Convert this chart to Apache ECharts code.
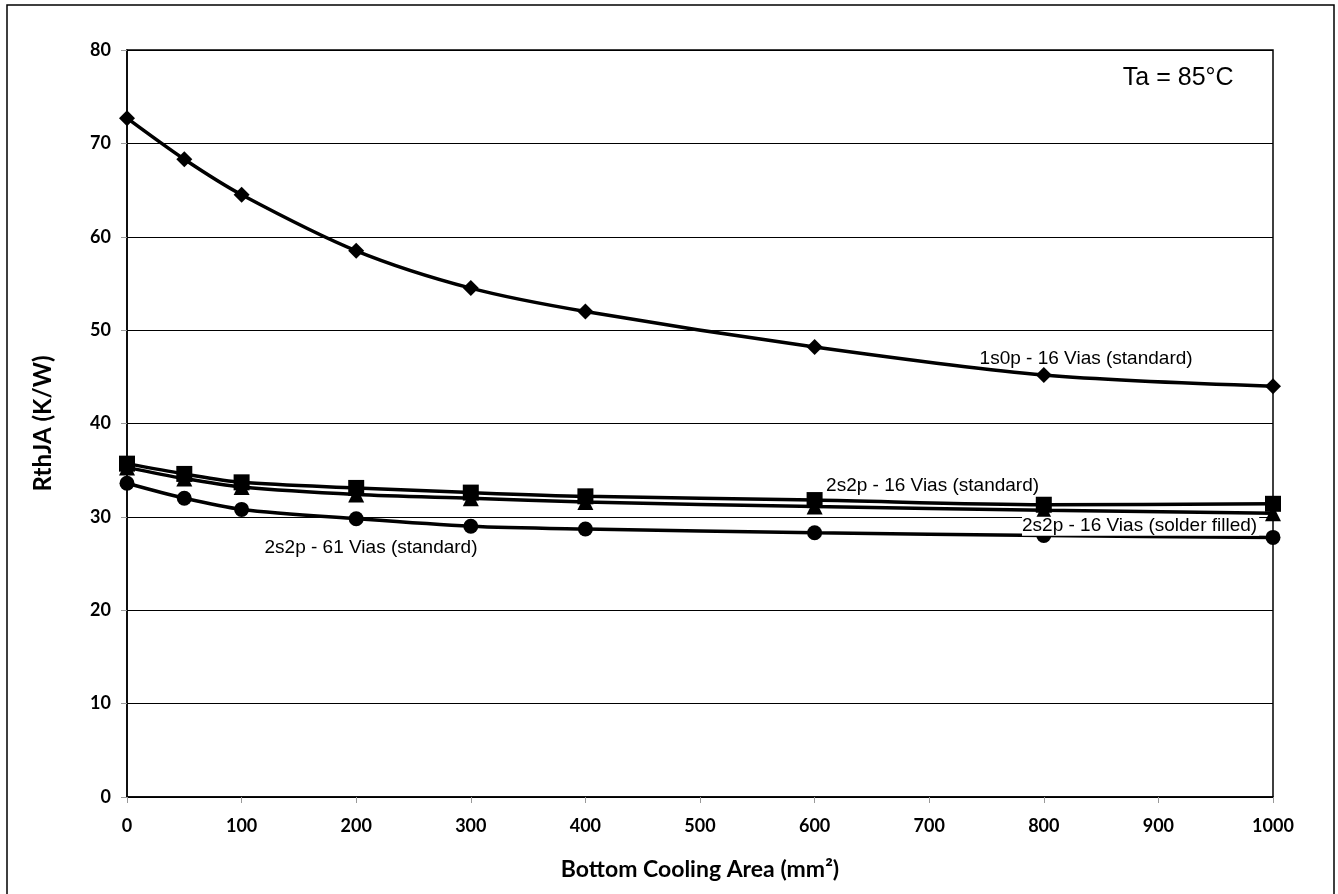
<!DOCTYPE html>
<html>
<head>
<meta charset="utf-8">
<script src="https://cdn.jsdelivr.net/npm/echarts@6/dist/echarts.min.js"></script>
<style>
  html, body { margin: 0; padding: 0; background: #fff; }
  #panel { width: 1338px; height: 894px; }
</style>
</head>
<body>
<div id="panel"></div>
<script>
var area = [0, 50, 100, 200, 300, 400, 600, 800, 1000];

var s1s0p16 = [72.7, 68.3, 64.5, 58.5, 54.5, 52.0, 48.2, 45.2, 44.0];
var s2s2p16 = [35.7, 34.6, 33.7, 33.1, 32.6, 32.2, 31.8, 31.3, 31.4];
var s2s2p16sf = [35.3, 34.1, 33.2, 32.4, 32.0, 31.6, 31.1, 30.7, 30.4];
var s2s2p61 = [33.6, 32.0, 30.8, 29.8, 29.0, 28.7, 28.3, 28.0, 27.8];

var names = ['1s0p - 16 Vias (standard)', '2s2p - 16 Vias (standard)',
             '2s2p - 16 Vias (solder filled)', '2s2p - 61 Vias (standard)'];
// where each curve's caption sits, in data units (left edge, vertical middle)
var labelAt = [[744, 46.9], [610, 33.3], [781, 29.0], [120, 26.7]];
var labelSize = [19, 19, 19, 19];
var noteText = 'Ta = 85\u00B0C';
var noteAt = [869, 77.0];

function pairs(ys) {
    return area.map(function (x, i) { return [x, ys[i]]; });
}

function caption(i, bg) {
    return {
        coord: labelAt[i],
        symbol: 'circle',
        symbolSize: 0,
        label: {
            show: true,
            position: 'inside',
            align: 'left',
            formatter: names[i],
            color: '#000',
            fontFamily: 'Liberation Sans, Arial',
            fontSize: labelSize[i],
            backgroundColor: bg ? '#fff' : 'transparent',
            padding: [0, 2, 0, 0]
        }
    };
}

function line(ys, symbol, size, i, bg) {
    return {
        name: names[i],
        type: 'line',
        data: pairs(ys),
        smooth: 0.3,
        symbol: symbol,
        symbolSize: size,
        showAllSymbol: true,
        lineStyle: { color: '#000', width: 3.5 },
        itemStyle: { color: '#000' },
        z: 3,
        markPoint: {
            silent: true,
            data: [caption(i, bg)],
            z: 5
        }
    };
}

var series = [
    line(s1s0p16, 'diamond', 16, 0, false),
    line(s2s2p16, 'rect', 16, 1, false),
    line(s2s2p16sf, 'triangle', 16, 2, true),
    line(s2s2p61, 'circle', 15, 3, false)
];
series[0].markPoint.data.push({
    coord: noteAt,
    symbol: 'circle',
    symbolSize: 0,
    label: {
        show: true, position: 'inside', align: 'left', formatter: noteText,
        color: '#000', fontFamily: 'Liberation Sans, Arial', fontSize: 25
    }
});

var axisFont = { fontFamily: 'Lato, Carlito, sans-serif', fontWeight: 'bold', color: '#000' };

var options = {
    backgroundColor: '#fff',
    animation: false,
    graphic: [{
        type: 'rect',
        shape: { x: 7, y: 5, width: 1327, height: 900 },
        style: { fill: 'none', stroke: '#000', lineWidth: 1.5 },
        z: 0
    }],
    grid: {
        left: 127, right: 65, top: 50, bottom: 97,
        show: true, borderColor: '#000', borderWidth: 1.5
    },
    xAxis: {
        type: 'value',
        min: 0, max: 1000, interval: 100,
        name: 'Bottom Cooling Area (mm\u00B2)',
        nameLocation: 'middle',
        nameGap: 61,
        nameTextStyle: Object.assign({ fontSize: 23 }, axisFont),
        axisLine: { show: true, lineStyle: { color: '#000', width: 1.5 } },
        axisTick: { show: true, length: 6, lineStyle: { color: '#999' } },
        axisLabel: Object.assign({ fontSize: 18, margin: 20, formatter: function (v) { return String(v); } }, axisFont),
        splitLine: { show: false }
    },
    yAxis: {
        type: 'value',
        min: 0, max: 80, interval: 10,
        name: 'RthJA (K/W)',
        nameLocation: 'middle',
        nameGap: 72,
        nameTextStyle: Object.assign({ fontSize: 24 }, axisFont),
        axisLine: { show: true, lineStyle: { color: '#000', width: 1.5 } },
        axisTick: { show: true, inside: false, length: 6, lineStyle: { color: '#999' } },
        axisLabel: Object.assign({ fontSize: 18, margin: 16 }, axisFont),
        splitLine: { show: true, lineStyle: { color: '#000', width: 1.2 } }
    },
    series: series
};

var myChart = echarts.init(document.getElementById('panel'));
myChart.setOption(options);
</script>
</body>
</html>
